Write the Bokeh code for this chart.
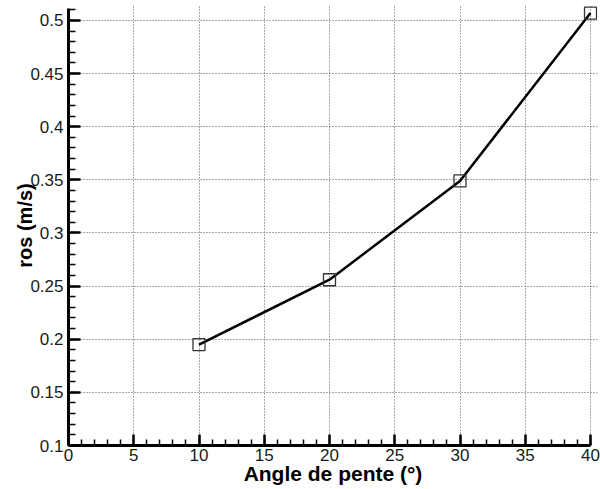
from bokeh.plotting import figure
from bokeh.models import FixedTicker, Range1d
from bokeh.embed import file_html
from bokeh.resources import INLINE
import numpy as np

# ---- data ----
angle = [10, 20, 30, 40]
ros = [0.195, 0.256, 0.349, 0.507]

x_ticks = [0, 5, 10, 15, 20, 25, 30, 35, 40]
x_tick_labels = ["0", "5", "10", "15", "20", "25", "30", "35", "40"]
y_ticks = [0.1, 0.15, 0.2, 0.25, 0.3, 0.35, 0.4, 0.45, 0.5]
y_tick_labels = ["0.1", "0.15", "0.2", "0.25", "0.3", "0.35", "0.4", "0.45", "0.5"]
x_minor = list(np.arange(0, 41, 1).astype(float))
y_minor = [round(v, 2) for v in np.arange(0.10, 0.515, 0.01)]

x_axis_span = (0, 40)
y_axis_span = (0.1, 0.5113)

x_title = "Angle de pente (°)"
y_title = "ros (m/s)"

FONT = "Liberation Sans"

p = figure(width=600, height=489, output_backend="svg", toolbar_location=None,
           x_range=Range1d(0, 40.536), y_range=Range1d(0.1, 0.5141),
           min_border_left=68, min_border_right=3, min_border_top=5,
           min_border_bottom=44)
p.outline_line_color = None
p.background_fill_color = "white"
p.border_fill_color = "white"

# axes
xt = FixedTicker(ticks=x_ticks, minor_ticks=x_minor)
yt = FixedTicker(ticks=y_ticks, minor_ticks=y_minor)
p.xaxis.ticker = xt
p.yaxis.ticker = yt
p.xgrid.ticker = xt
p.ygrid.ticker = yt
p.xaxis.bounds = x_axis_span
p.yaxis.bounds = y_axis_span
p.xaxis.major_label_overrides = {t: l for t, l in zip(x_ticks, x_tick_labels)}
p.yaxis.major_label_overrides = {t: l for t, l in zip(y_ticks, y_tick_labels)}

for ax in (p.xaxis, p.yaxis):
    ax.axis_line_color = "black"
    ax.axis_line_width = 3
    ax.major_tick_line_color = "black"
    ax.major_tick_line_width = 2.5
    ax.minor_tick_line_color = "black"
    ax.minor_tick_line_width = 1.5
    ax.major_tick_out = 0
    ax.minor_tick_out = 0
    ax.major_label_text_font = FONT
    ax.major_label_text_font_size = "17px"
    ax.major_label_text_color = "#1a1a1a"
    ax.axis_label_text_font = FONT
    ax.axis_label_text_font_style = "bold"
    ax.axis_label_text_color = "black"

p.xaxis.major_tick_in = 11
p.xaxis.minor_tick_in = 6
p.yaxis.major_tick_in = 12
p.yaxis.minor_tick_in = 7
p.xaxis.major_label_standoff = 3
p.yaxis.major_label_standoff = 5

p.xaxis.axis_label = x_title
p.xaxis.axis_label_text_font_size = "21px"
p.xaxis.axis_label_standoff = -2
p.yaxis.axis_label = y_title
p.yaxis.axis_label_text_font_size = "20px"
p.yaxis.axis_label_standoff = -9

# grid
for g in (p.xgrid, p.ygrid):
    g.grid_line_color = "#555555"
    g.grid_line_dash = "1 2"
    g.grid_line_width = 1

# data
p.line(angle, ros, line_color="black", line_width=2.5)
p.scatter(angle, ros, marker="square", size=12, fill_color=None,
          line_color="#333333", line_width=1.3)

open("out.html", "w").write(file_html(p, INLINE))
